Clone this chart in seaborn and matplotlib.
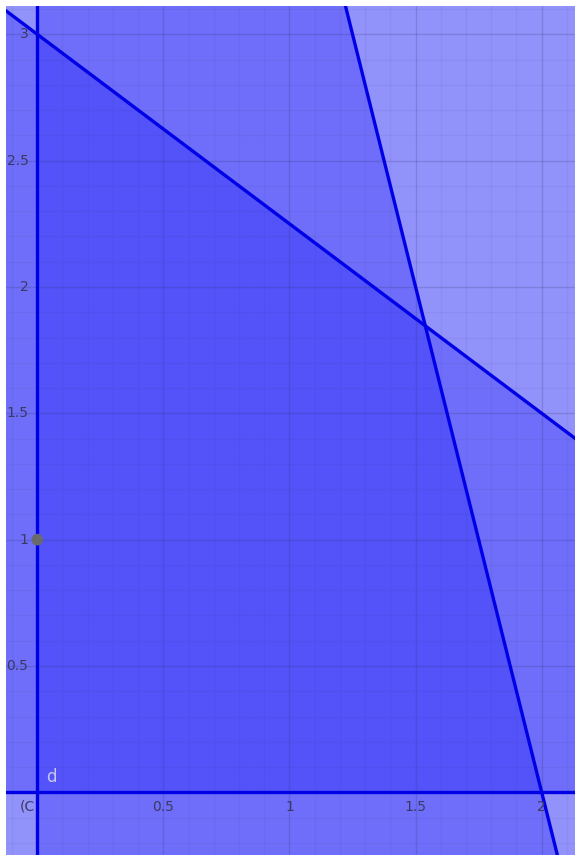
import numpy as np
import pandas as pd
import matplotlib
matplotlib.use("Agg")
import matplotlib.pyplot as plt
import seaborn as sns

# Constraint lines a*x + b*y = c  (shaded side: a*x + b*y <= c)
a_coef = [3, 4]
b_coef = [4, 1]
rhs = [12, 8]
# Point on the y axis
pt_x = [0]
pt_y = [1]
# Tick labels
x_ticks = [0.5, 1, 1.5, 2]
x_tick_labels = ["0.5", "1", "1.5", "2"]
y_ticks = [0.5, 1, 1.5, 2, 2.5, 3]
y_tick_labels = ["0.5", "1", "1.5", "2", "2.5", "3"]
origin_label = "(C"
line_label = "d"

XMIN, XMAX = -0.124, 2.132
YMIN, YMAX = -0.248, 3.112

sns.set_style("white")
plt.rcParams['font.family'] = ['DejaVu Sans']

fig = plt.figure(figsize=(5.75, 8.55), dpi=100)
ax = fig.add_axes([6 / 575, 0, 569 / 575, 849 / 855])
ax.set_xlim(XMIN, XMAX)
ax.set_ylim(YMIN, YMAX)

fill_col = "#0000f8"
alpha = 0.245
xs = np.linspace(XMIN - 1, XMAX + 1, 400)
ys = np.linspace(YMIN - 1, YMAX + 1, 400)

# half planes
ax.fill_betweenx(ys, 0, XMAX + 1, color=fill_col, alpha=alpha, lw=0)   # x >= 0
ax.fill_between(xs, 0, YMAX + 1, color=fill_col, alpha=alpha, lw=0)    # y >= 0
for a, b, c in zip(a_coef, b_coef, rhs):
    ax.fill_between(xs, YMIN - 1, (c - a * xs) / b, color=fill_col, alpha=alpha, lw=0)

# grid
for v in np.arange(-0.1, 2.2, 0.1):
    major = abs(v / 0.5 - round(v / 0.5)) < 1e-6
    ax.axvline(v, color="#303070", alpha=0.2 if major else 0.06, lw=1.0, zorder=1)
for v in np.arange(-0.2, 3.2, 0.1):
    major = abs(v / 0.5 - round(v / 0.5)) < 1e-6
    ax.axhline(v, color="#303070", alpha=0.2 if major else 0.06, lw=1.0, zorder=1)

line_col = "#0000e6"
for a, b, c in zip(a_coef, b_coef, rhs):
    df = pd.DataFrame({"x": xs, "y": (c - a * xs) / b})
    sns.lineplot(data=df, x="x", y="y", ax=ax, color=line_col, lw=2.4, sort=False, zorder=4)
ax.axvline(0, color=line_col, lw=2.4, zorder=4)
ax.axhline(0, color=line_col, lw=2.4, zorder=4)

sns.scatterplot(x=pt_x, y=pt_y, ax=ax, color="#6a6a6a", s=70, edgecolor="none", zorder=6)

tcol = "#3a3a60"
for v, lab in zip(x_ticks, x_tick_labels):
    ax.text(v, -0.03, lab, ha="center", va="top", fontsize=10, color=tcol, zorder=7)
for v, lab in zip(y_ticks, y_tick_labels):
    ax.text(-0.035, v, lab, ha="right", va="center", fontsize=10, color=tcol, zorder=7)
ax.text(-0.008, -0.03, origin_label, ha="right", va="top", fontsize=10, color=tcol, zorder=7)
ax.text(0.035, 0.025, line_label, ha="left", va="bottom", fontsize=12, color="#c8c8f0", zorder=7)

ax.set_xlabel("")
ax.set_ylabel("")
ax.set_xticks([])
ax.set_yticks([])
for s in ax.spines.values():
    s.set_visible(False)

fig.savefig("out.png", dpi=100, facecolor="white")
